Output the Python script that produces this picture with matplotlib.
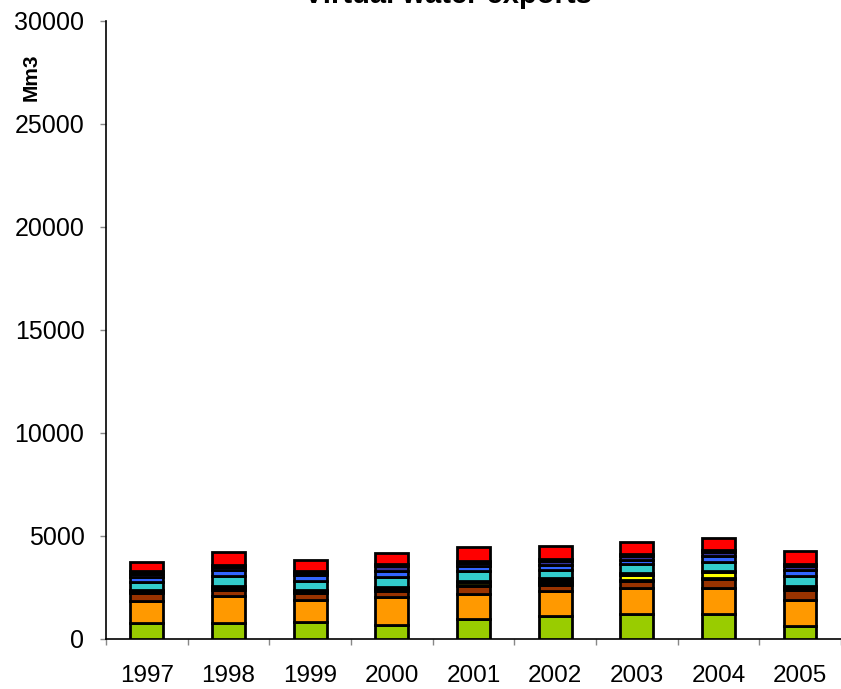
import matplotlib
matplotlib.use("Agg")
import matplotlib.pyplot as plt
import numpy as np

plt.rcParams['font.family'] = ['Liberation Sans', 'DejaVu Sans']

years = ["1997", "1998", "1999", "2000", "2001", "2002", "2003", "2004", "2005"]

# Stacked components (Mm3), bottom to top
green  = [786, 745, 795, 680, 980, 1115, 1220, 1210, 625]
orange = [1030, 1335, 1065, 1345, 1205, 1210, 1235, 1245, 1235]
brown  = [400, 305, 355, 290, 375, 305, 365, 425, 485]
olive  = [60, 100, 60, 110, 70, 75, 50, 50, 50]
yellow = [30, 20, 30, 30, 120, 120, 230, 300, 135]
dark_a = [40, 50, 55, 60, 60, 120, 105, 50, 50]
teal   = [400, 485, 460, 485, 475, 410, 410, 435, 460]
blue   = [270, 290, 265, 290, 245, 220, 220, 290, 290]
navy   = [150, 130, 100, 220, 145, 195, 170, 220, 195]
dark_b = [140, 120, 95, 120, 95, 120, 120, 100, 95]
red    = [420, 640, 535, 535, 680, 605, 560, 580, 630]

series = [green, orange, brown, olive, yellow, dark_a, teal, blue, navy, dark_b, red]
colors = ["#99CC00", "#FF9900", "#993300", "#808000", "#FFFF00", "#000000",
          "#33CCCC", "#3366FF", "#333399", "#000000", "#FF0000"]

fig = plt.figure(figsize=(8.41, 6.89), dpi=100)
ax = fig.add_axes([106 / 841, 1 - 638.7 / 689, 735 / 841, (638.7 - 21) / 689])

x = np.arange(len(years))
bottom = np.zeros(len(years))
for vals, col in zip(series, colors):
    v = np.array(vals, dtype=float)
    ax.bar(x, v, width=0.4, bottom=bottom, color=col, edgecolor="black",
           linewidth=2.0, zorder=3)
    bottom += v

ax.set_xlim(-0.5, len(years) - 0.5)
ax.set_ylim(0, 30000)
ax.set_yticks(np.arange(0, 30001, 5000))
ax.tick_params(axis="y", direction="out", length=4.5, width=1, color="#888888",
               labelsize=18, pad=11)

ax.set_xticks(x)
ax.set_xticklabels(years)
ax.tick_params(axis="x", which="major", length=0, labelsize=17.5, pad=19)
ax.set_xticks(np.arange(-0.5, len(years), 1.0), minor=True)
ax.tick_params(axis="x", which="minor", direction="out", length=4.5, width=1,
               color="#888888")

for side in ("top", "right"):
    ax.spines[side].set_visible(False)
for side in ("left", "bottom"):
    ax.spines[side].set_color("black")
    ax.spines[side].set_linewidth(1.2)

fig.text(448 / 841, 1 - 3 / 689, "Virtual water exports", ha="center",
         va="baseline", fontsize=21, fontweight="bold")
fig.text(31 / 841, 1 - 77 / 689, "Mm3", rotation=90, ha="center", va="center",
         fontsize=15, fontweight="bold")

fig.savefig("out.png", dpi=100)
